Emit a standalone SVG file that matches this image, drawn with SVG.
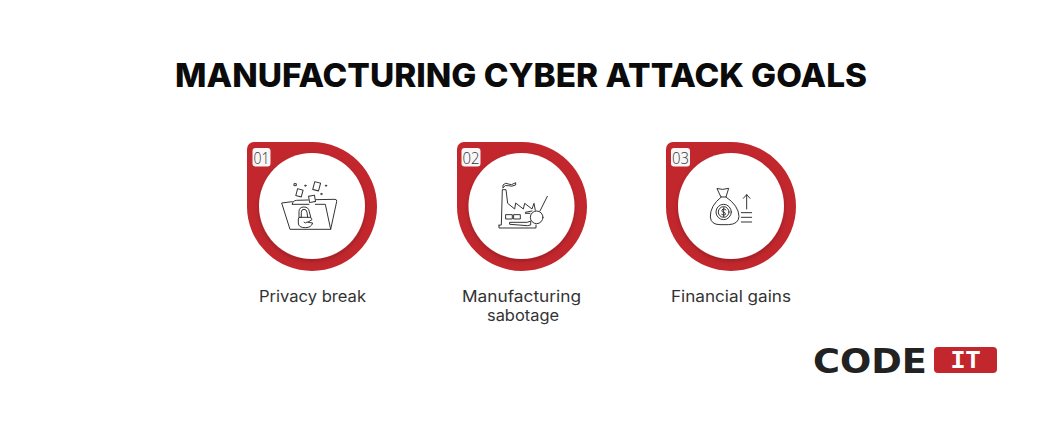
<svg xmlns="http://www.w3.org/2000/svg" width="1042" height="428" viewBox="0 0 1042 428">
<defs>
<path id="drop" d="M7 0H65A65 64.5 0 1 1 0 64.500V7A7 7 0 0 1 7 0Z" fill="#c1272d"/>
<filter id="sh" x="-20%" y="-20%" width="140%" height="140%"><feDropShadow dx="0" dy="2" stdDeviation="2" flood-color="#000" flood-opacity=".22"/></filter>
</defs>
<style>
.t{font-family:Inter,"Open Sans","Liberation Sans",sans-serif}
.title{font-size:33px;font-weight:800;fill:#0b0b0b}
.lab{font-size:15.500px;fill:#333;font-weight:400}
.num{font-family:"Open Sans","Liberation Sans",sans-serif;font-size:17px;font-weight:300;fill:#333}
.badge{fill:#f8f6f6}
.ic{fill:none;stroke:#333;stroke-width:3;stroke-linejoin:round;stroke-linecap:round}
.hole{fill:#fff;filter:url(#sh)}
</style>
<rect width="1042" height="428" fill="#fff"/>
<text class="t title" x="175" y="87" textLength="692" lengthAdjust="spacingAndGlyphs">MANUFACTURING CYBER ATTACK GOALS</text>

<g id="node-01">
<use href="#drop" x="247" y="142"/>
<circle class="hole" cx="312" cy="206" r="53"/>
<rect class="badge" x="252.500" y="148" width="18" height="18.500" rx="3"/>
<text class="num" x="253.500" y="163.500" textLength="16" lengthAdjust="spacingAndGlyphs">01</text>
<g class="ic" transform="translate(240 135) scale(.3333)">
<path d="M157 208Q157 197 170 196L205 195M228 194L285 193Q291 193 290 200L272 283H150L125 204L157 200"/>
<path d="M157 208H207M226 208H256L272 283"/>
<rect x="170" y="163" width="17" height="21" transform="rotate(15 178 173)"/>
<rect x="207" y="182" width="18" height="19" transform="rotate(-10 216 191)"/>
<rect x="221" y="142" width="18" height="24" transform="rotate(15 230 154)"/>
<rect x="163" y="146" width="6" height="6"/><circle cx="196" cy="152" r="2"/><circle cx="258" cy="152" r="2"/><circle cx="244" cy="177" r="2"/>
<path d="M177 247V230Q177 216 192 216Q206 216 208 230L212 246M184 247V232Q184 223 192 223Q200 223 201 232L203 247"/>
<path d="M180 247H212L216 254L203 262L218 264Q214 278 196 278Q175 278 175 264V252Q175 247 180 247Z"/>
<path d="M192 262q4 5 10-1"/>
</g>
</g>

<g id="node-02">
<use href="#drop" x="457" y="142"/>
<circle class="hole" cx="521.500" cy="206" r="53"/>
<rect class="badge" x="461.500" y="148" width="19" height="18.500" rx="3"/>
<text class="num" x="462.500" y="163.500" textLength="17" lengthAdjust="spacingAndGlyphs">02</text>
<g class="ic" transform="translate(450 135) scale(.3333)">
<path d="M159 158V150Q167 141 175 147T197 143V150Q185 156 175 152T159 158Z"/>
<path d="M147 271L154 270L157 164H168L173 205L194 222L197 204L220 222L224 205L246 222L252 205L256 226"/>
<path d="M147 270V279H258V270"/>
<circle cx="260" cy="247" r="19"/>
<path d="M270 228L292 184M246 228L226 232M240 235H226"/>
<rect x="168" y="239" width="19" height="13"/><rect x="192" y="239" width="19" height="13"/>
<path d="M180 262H232L242 258V270L232 272L180 268Z"/>
</g>
</g>

<g id="node-03">
<use href="#drop" x="666" y="142"/>
<circle class="hole" cx="731" cy="206" r="53"/>
<rect class="badge" x="671" y="148" width="19" height="18.500" rx="3"/>
<text class="num" x="672" y="163.500" textLength="17" lengthAdjust="spacingAndGlyphs">03</text>
<g class="ic" transform="translate(660 135) scale(.3333)">
<path d="M172 161Q188 166 206 160L198 186H184Z"/>
<path d="M184 186Q150 212 151 246Q153 269 180 269H205Q236 268 237 244Q236 212 198 186"/>
<circle cx="191" cy="231" r="23"/><circle cx="191" cy="231" r="16"/>
<path d="M198 225Q195 221 190 222Q184 224 186 229Q188 232 192 232Q198 234 196 239Q191 243 185 238M191 218V245"/>
<path d="M260 222V179M250 190L260 179L270 190M244 233H275M244 247H275M244 261H275"/>
</g>
</g>

<g id="labels">
<text class="t lab" x="259" y="302" textLength="107" lengthAdjust="spacingAndGlyphs">Privacy break</text>
<text class="t lab" x="462" y="302" textLength="119" lengthAdjust="spacingAndGlyphs">Manufacturing</text>
<text class="t lab" x="487" y="321" textLength="72" lengthAdjust="spacingAndGlyphs">sabotage</text>
<text class="t lab" x="671" y="302" textLength="120" lengthAdjust="spacingAndGlyphs">Financial gains</text>
</g>

<g id="logo">
<text x="813" y="373" font-family="'DejaVu Sans',sans-serif" font-weight="700" font-size="34" fill="#222" textLength="114" lengthAdjust="spacingAndGlyphs">CODE</text>
<rect x="934" y="347" width="63" height="26" rx="4" fill="#c1272d"/>
<text x="965.500" y="368" font-family="'Liberation Mono',monospace" font-weight="700" font-size="25" fill="#fff" text-anchor="middle">IT</text>
</g>
</svg>
